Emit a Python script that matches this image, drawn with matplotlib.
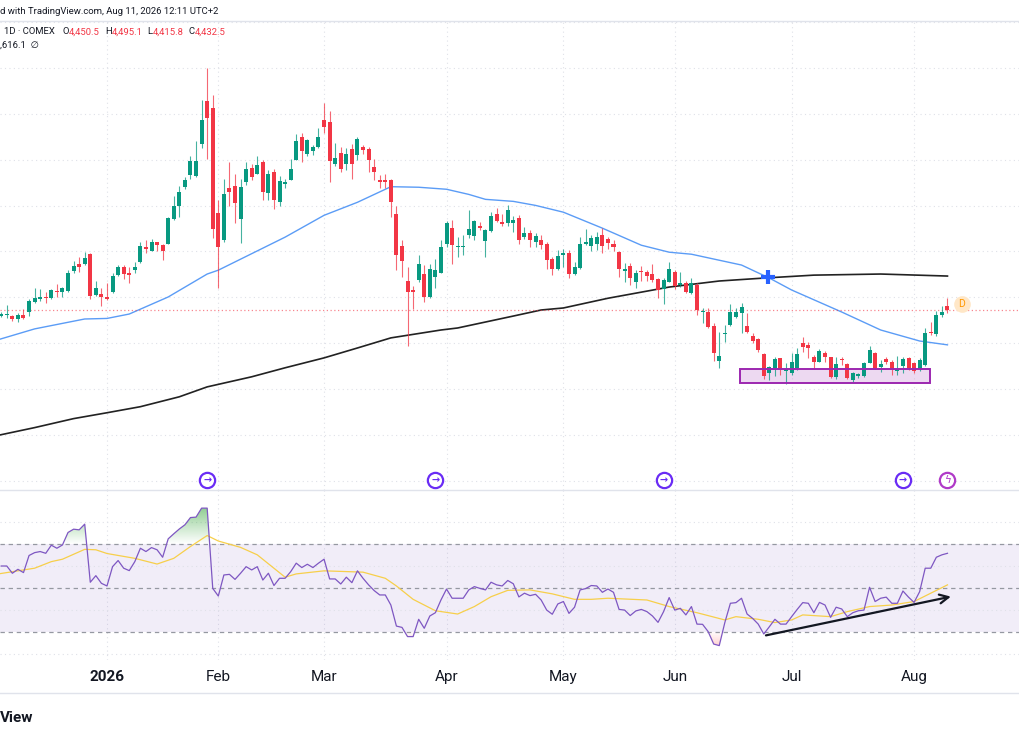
import numpy as np
import pandas as pd
import matplotlib
matplotlib.use("Agg")
import matplotlib.pyplot as plt
from matplotlib.colors import to_rgb
from matplotlib.lines import Line2D
from matplotlib.patches import Rectangle
from matplotlib.path import Path
from matplotlib.transforms import blended_transform_factory

plt.rcParams["font.family"] = ["Roboto", "DejaVu Sans"]

# COMEX gold, daily bars from 4 Dec 2025 to 11 Aug 2026
first_day = "2025-12-04"
holidays = ["2025-12-25", "2026-01-01", "2026-01-19", "2026-02-16",
            "2026-04-03", "2026-05-25", "2026-06-19", "2026-07-03"]

opens = [
    # Dec
    4400, 4402, 4398, 4380, 4402, 4422, 4473, 4493, 4502, 4494, 4536, 4531, 4534, 4641, 4681, 4681, 4734, 4513, 4518,
    # Jan
    4502, 4527, 4621, 4668, 4634, 4648, 4690, 4775, 4755, 4801, 4783, 4790, 4926, 4998, 5101, 5165, 5159, 5337, 5569, 5531,
    # Feb
    4957, 4812, 5094, 5109, 4929, 5129, 5207, 5172, 5236, 5069, 5183, 5020, 5120, 5141, 5250, 5373, 5279, 5297, 5322,
    # Mar
    5469, 5457, 5225, 5286, 5228, 5310, 5274, 5322, 5310, 5210, 5138, 5141, 5138, 4956, 4781, 4589, 4540, 4597, 4627, 4504, 4612, 4634,
    # Apr
    4788, 4880, 4772, 4775, 4839, 4835, 4889, 4806, 4862, 4956, 4909, 4906, 4904, 4935, 4830, 4853, 4802, 4813, 4790, 4708, 4654,
    # May
    4733, 4739, 4625, 4661, 4791, 4781, 4793, 4842, 4820, 4793, 4748, 4643, 4670, 4581, 4643, 4639, 4627, 4599, 4543, 4585,
    # Jun
    4636, 4567, 4578, 4523, 4567, 4418, 4420, 4346, 4155, 4300, 4349, 4395, 4413, 4344, 4291, 4273, 4193, 4086, 4114, 4168, 4099,
    # Jul
    4086, 4114, 4253, 4240, 4177, 4150, 4195, 4174, 4068, 4165, 4135, 4050, 4072, 4072, 4144, 4199, 4119, 4163, 4150, 4101, 4126, 4168,
    # Aug
    4141, 4108, 4131, 4313, 4300, 4404, 4450.5,
]
highs = [
    4418, 4458, 4402, 4413, 4435, 4489, 4552, 4547, 4531, 4545, 4572, 4558, 4648, 4697, 4721, 4748, 4744, 4587, 4549,
    4580, 4630, 4676, 4676, 4663, 4692, 4802, 4812, 4817, 4802, 4793, 4938, 5051, 5105, 5156, 5268, 5352, 5573, 5750, 5603,
    5029, 5147, 5237, 5170, 5147, 5237, 5225, 5268, 5247, 5196, 5201, 5159, 5147, 5255, 5388, 5395, 5364, 5328, 5424,
    5558, 5515, 5343, 5319, 5315, 5337, 5373, 5328, 5322, 5255, 5165, 5174, 5147, 4996, 4812, 4667, 4562, 4730, 4676, 4681, 4707, 4812,
    4917, 4920, 4830, 4839, 4978, 4920, 4911, 4870, 4965, 4989, 4956, 5005, 4944, 4947, 4884, 4866, 4851, 4839, 4802, 4721, 4757,
    4766, 4757, 4694, 4829, 4871, 4839, 4857, 4878, 4829, 4811, 4752, 4685, 4685, 4648, 4672, 4648, 4679, 4607, 4607, 4694,
    4648, 4636, 4589, 4603, 4576, 4440, 4440, 4358, 4309, 4349, 4462, 4444, 4467, 4413, 4304, 4280, 4198, 4126, 4177, 4172, 4141,
    4195, 4222, 4282, 4259, 4186, 4217, 4210, 4177, 4177, 4177, 4141, 4095, 4090, 4150, 4235, 4204, 4159, 4177, 4159, 4181, 4177, 4173,
    4150, 4168, 4331, 4367, 4425, 4453, 4495.1,
]
lows = [
    4392, 4386, 4373, 4368, 4380, 4398, 4467, 4482, 4467, 4493, 4503, 4503, 4531, 4630, 4639, 4676, 4489, 4507, 4453,
    4485, 4522, 4616, 4600, 4580, 4634, 4688, 4743, 4754, 4752, 4705, 4788, 4920, 4937, 5092, 5147, 5156, 5315, 5254, 4826,
    4552, 4803, 4996, 4906, 4797, 5114, 5141, 5170, 5029, 5029, 4984, 4996, 5098, 5138, 5246, 5237, 5268, 5273, 5315,
    5395, 5129, 5214, 5183, 5192, 5147, 5246, 5283, 5183, 5141, 5096, 5098, 4938, 4648, 4612, 4235, 4435, 4585, 4476, 4494, 4549, 4630,
    4775, 4681, 4721, 4730, 4821, 4815, 4866, 4721, 4857, 4911, 4888, 4888, 4855, 4788, 4820, 4775, 4775, 4766, 4657, 4621, 4648,
    4666, 4607, 4621, 4654, 4784, 4752, 4757, 4744, 4762, 4752, 4612, 4581, 4567, 4552, 4589, 4589, 4585, 4498, 4462, 4581,
    4545, 4558, 4522, 4516, 4404, 4358, 4331, 4155, 4114, 4259, 4346, 4389, 4304, 4304, 4250, 4204, 4055, 4047, 4072, 4077, 4028,
    4077, 4105, 4204, 4168, 4108, 4145, 4150, 4059, 4054, 4132, 4054, 4041, 4059, 4068, 4141, 4108, 4095, 4137, 4077, 4077, 4090, 4104,
    4090, 4096, 4126, 4295, 4290, 4395, 4415.8,
]
closes = [
    4408, 4409, 4380, 4402, 4388, 4482, 4494, 4500, 4498, 4540, 4529, 4552, 4634, 4670, 4663, 4717, 4509, 4551, 4503,
    4491, 4616, 4663, 4627, 4621, 4667, 4779, 4761, 4801, 4786, 4754, 4931, 4998, 5072, 5141, 5241, 5241, 5464, 5478, 4870,
    4775, 5062, 5076, 5014, 5101, 5201, 5156, 5219, 5074, 5170, 5029, 5132, 5127, 5201, 5352, 5297, 5355, 5319, 5373,
    5431, 5243, 5257, 5201, 5283, 5225, 5364, 5301, 5246, 5183, 5127, 5130, 5020, 4730, 4699, 4531, 4529, 4681, 4504, 4657, 4648, 4775,
    4907, 4784, 4779, 4781, 4870, 4915, 4878, 4866, 4942, 4917, 4898, 4974, 4924, 4811, 4848, 4811, 4833, 4784, 4703, 4654, 4724,
    4741, 4625, 4666, 4788, 4804, 4826, 4830, 4781, 4797, 4775, 4657, 4654, 4603, 4630, 4636, 4617, 4594, 4540, 4594, 4657,
    4563, 4576, 4531, 4576, 4429, 4425, 4340, 4197, 4181, 4308, 4418, 4418, 4445, 4310, 4264, 4213, 4072, 4122, 4163, 4104, 4110,
    4150, 4192, 4231, 4222, 4145, 4210, 4177, 4068, 4135, 4156, 4059, 4086, 4083, 4144, 4213, 4114, 4135, 4145, 4104, 4108, 4164, 4114,
    4101, 4158, 4307, 4304, 4404, 4422, 4432.5,
]

# RSI(14) per bar
rsi = [
    60.1, 60.1, 56.8, 58.6, 57.1, 64.9, 66.2, 66.7, 65.9, 69.6, 68.2, 69.7, 75.4, 76.9, 76.6, 79.2, 52.7, 55.7, 52.2,
    51.0, 59.8, 62.6, 59.1, 58.0, 62.1, 68.2, 66.7, 68.5, 67.5, 64.1, 72.5, 74.8, 77.0, 78.9, 82.2, 82.4, 86.5, 86.5, 49.9,
    46.4, 56.0, 56.3, 54.0, 56.8, 59.8, 58.3, 59.8, 53.7, 56.8, 51.2, 54.5, 54.5, 57.5, 61.4, 59.4, 60.9, 59.4, 61.4,
    63.2, 54.2, 54.2, 51.9, 55.0, 52.5, 57.9, 54.5, 51.5, 48.9, 46.9, 46.9, 42.3, 32.7, 32.1, 27.9, 27.9, 35.8, 31.7, 37.3, 38.8, 44.6,
    49.6, 45.4, 45.4, 45.4, 49.2, 50.7, 49.9, 49.2, 52.7, 51.5, 51.0, 53.5, 52.0, 46.0, 47.7, 46.6, 47.2, 44.6, 40.0, 38.1, 42.8,
    43.9, 38.5, 41.3, 49.2, 49.8, 51.2, 51.0, 48.1, 49.6, 48.1, 40.3, 40.0, 37.5, 39.6, 40.3, 39.3, 37.3, 34.4, 39.3, 45.7,
    40.0, 40.8, 37.8, 41.6, 33.6, 33.5, 30.2, 24.5, 23.8, 34.3, 43.1, 43.4, 45.4, 38.2, 36.2, 33.6, 29.1, 32.4, 35.8, 33.6, 33.6,
    37.0, 40.3, 43.4, 43.1, 38.8, 43.5, 42.3, 36.7, 41.3, 40.5, 37.0, 38.8, 39.7, 40.0, 50.4, 43.9, 45.4, 45.9, 43.1, 43.1, 48.7, 45.9,
    43.5, 48.4, 59.1, 59.1, 64.1, 65.2, 65.9,
]

# moving averages, read at a few bars (bar number counted from 4 Dec 2025)
sma50_bar = [-1, 6, 15, 19, 23, 30, 37, 39, 47, 51, 58, 64, 70, 75, 80, 84, 87, 92, 96, 101,
             108, 115, 120, 124, 133, 138, 142, 151, 158, 165, 170]
sma50_val = [4265, 4328, 4382, 4385, 4409, 4502, 4627, 4648, 4768, 4828, 4947, 5018, 5103, 5100, 5089, 5061, 5034, 5023, 5001, 4964,
             4877, 4784, 4746, 4735, 4676, 4605, 4540, 4420, 4322, 4262, 4241]
sma200_bar = [-1, 6, 13, 19, 25, 32, 37, 45, 51, 58, 64, 70, 79, 82, 92, 97, 101, 109, 120, 129, 137, 146, 158, 170]
sma200_val = [3745, 3790, 3839, 3871, 3904, 3958, 4012, 4067, 4116, 4170, 4224, 4279, 4322, 4333, 4398, 4431, 4442, 4495,
              4556, 4589, 4605, 4621, 4627, 4616]
rsi_ma_bar = [-1, 6, 9, 11, 15, 17, 19, 24, 28, 31, 34, 37, 39, 43, 46, 51, 53, 58, 65, 69, 71, 74, 78, 82, 85, 88, 91, 95,
              99, 103, 106, 109, 116, 120, 125, 130, 132, 136, 139, 142, 144, 149, 152, 156, 160, 164, 167, 170]
rsi_ma_val = [56.3, 59.1, 62.1, 63.2, 67.7, 67.5, 65.8, 63.6, 61.0, 63.6, 69.0, 74.0, 71.5, 68.6, 65.2, 55.0, 56.5, 57.9,
              57.3, 54.5, 51.0, 44.9, 39.7, 38.2, 41.6, 46.1, 49.0, 49.2, 47.4, 44.9, 44.9, 45.4, 44.6, 41.6, 38.8, 35.5,
              37.0, 35.8, 34.3, 35.5, 37.8, 37.0, 39.3, 41.6, 42.3, 43.9, 47.7, 51.5]

# drawings on the chart
zone_bars = (132.7, 166.9)
zone_prices = (4034, 4110)
cross_point = (137.8, 4610)
trend_start = (136.9, 28.2)
trend_end = (171.1, 46.4)
event_bars = [37, 78, 119, 162]
bolt_bar = 170
last_close = closes[-1]

UP, DOWN = "#089981", "#f23645"
TXT = "#131722"
GRID = "#dfe1e8"

W, H = 1020, 741


def fy(px):
    return 1 - px / H


def gradient_fill(axis, x, y, level, far, color, alpha_max):
    x = np.asarray(x, float)
    y = np.asarray(y, float)
    if far > level:
        coll = axis.fill_between(x, level, y, where=y > level, interpolate=True, color="none", lw=0)
        alphas = np.linspace(alpha_max, 0, 256)
    else:
        coll = axis.fill_between(x, y, level, where=y < level, interpolate=True, color="none", lw=0)
        alphas = np.linspace(0, alpha_max, 256)
    paths = coll.get_paths()
    if not paths:
        return
    rgba = np.zeros((256, 1, 4))
    rgba[..., :3] = to_rgb(color)
    rgba[:, 0, 3] = alphas
    img = axis.imshow(rgba, extent=(x.min(), x.max(), min(level, far), max(level, far)),
                      aspect="auto", origin="upper", zorder=2, interpolation="bilinear")
    img.set_clip_path(Path.make_compound_path(*paths), axis.transData)


days = pd.bdate_range(first_day, "2026-08-31", freq="C", holidays=holidays)
n = len(closes)
bars = np.arange(n)

month_pos, month_lab = [], []
for i in range(1, len(days)):
    if days[i].month != days[i - 1].month:
        month_pos.append(i)
        month_lab.append(str(days[i].year) if days[i].month == 1 else days[i].strftime("%b"))

fig = plt.figure(figsize=(W / 100, H / 100), dpi=100)
ax = fig.add_axes([0, fy(490), 1, 469 / H])
axr = fig.add_axes([0, fy(660), 1, 170 / H])
xlim = (-0.22, 183.03)

# ---------------- price pane ----------------
for p in range(3500, 6001, 250):
    ax.axhline(p, color=GRID, lw=0.8, ls=(0, (1, 3)), zorder=0)
for a in (ax, axr):
    for m in month_pos:
        a.axvline(m, color=GRID, lw=0.8, ls=(0, (1, 3)), zorder=0)

ax.add_patch(Rectangle((zone_bars[0], zone_prices[0]), zone_bars[1] - zone_bars[0],
                       zone_prices[1] - zone_prices[0], facecolor="#ce93d8", alpha=0.35, lw=0, zorder=1))
ax.add_patch(Rectangle((zone_bars[0], zone_prices[0]), zone_bars[1] - zone_bars[0],
                       zone_prices[1] - zone_prices[0], facecolor="none", edgecolor="#9c27b0", lw=1.4, zorder=4))

ax.plot(sma200_bar, sma200_val, color="#222222", lw=1.2, zorder=2)
ax.plot(sma50_bar, sma50_val, color="#5b9cf6", lw=1.0, zorder=2)

o, h, l, c = map(np.array, (opens, highs, lows, closes))
col = np.where(c >= o, UP, DOWN)
ax.vlines(bars, l, h, colors=col, lw=0.8, alpha=0.75, zorder=3)
ax.bar(bars, np.maximum(np.abs(c - o), 5), bottom=np.minimum(o, c), width=0.72, color=col, lw=0, zorder=3.1)

ax.axhline(last_close, color=DOWN, lw=0.9, ls=(0, (1, 2)), alpha=0.6, zorder=2)
ax.plot(*cross_point, marker="+", ms=10, mew=3, color="#2962ff", zorder=5)

ax.plot(n + 1.6, 4464, marker="o", ms=12, mfc="#ffe7c7", mec="none", zorder=5, clip_on=False)
ax.text(n + 1.6, 4464, "D", color="#ff9800", fontsize=7.5, ha="center", va="center", zorder=6)

ev = blended_transform_factory(ax.transData, ax.transAxes)
for b in event_bars:
    ax.plot(b, 0.0213, marker="o", ms=11, mfc="white", mec="#6a2cf5", mew=1.6, transform=ev, clip_on=False, zorder=5)
    ax.text(b, 0.0213, "→", color="#6a2cf5", fontsize=7, fontweight="bold", ha="center", va="center",
            transform=ev, zorder=6)
ax.plot(bolt_bar, 0.0213, marker="o", ms=11, mfc="white", mec="#b03ac8", mew=1.6, transform=ev, clip_on=False, zorder=5)
ax.text(bolt_bar, 0.0213, "ϟ", color="#b03ac8", fontsize=7.5, ha="center", va="center", transform=ev,
        family=["DejaVu Sans"], zorder=6)

ax.set_xlim(*xlim)
ax.set_ylim(3450, 6006)
ax.axis("off")

# ---------------- RSI pane ----------------
axr.axhspan(30, 70, color="#7e57c2", alpha=0.1, lw=0, zorder=0)
for v in (20, 40, 60, 80):
    axr.axhline(v, color=GRID, lw=0.8, ls=(0, (1, 3)), zorder=0)
for v in (30, 50, 70):
    axr.axhline(v, color="#9598a1", lw=0.9, ls=(0, (3.5, 3)), zorder=1)

gradient_fill(axr, bars, rsi, 70, 90, "#4caf50", 0.75)
gradient_fill(axr, bars, rsi, 30, 18, "#ff5252", 0.5)
axr.plot(rsi_ma_bar, rsi_ma_val, color="#f7cf4a", lw=0.9, zorder=3)
axr.plot(bars, rsi, color="#7e57c2", lw=0.9, zorder=4)
axr.annotate("", xy=trend_end, xytext=trend_start,
             arrowprops=dict(arrowstyle="->", color=TXT, lw=1.6, mutation_scale=16), zorder=5)

axr.set_xlim(*xlim)
axr.set_ylim(17.23, 94.77)
axr.axis("off")

# time axis labels
tr = blended_transform_factory(axr.transData, axr.transAxes)
for m, lab in zip(month_pos, month_lab):
    axr.text(m, -0.1, lab, transform=tr, ha="center", va="center", fontsize=11, color=TXT,
             fontweight="bold" if lab.isdigit() else "normal", clip_on=False)

# frame lines
for yy in (20.5, 490, 693):
    fig.add_artist(Line2D([0, 1], [fy(yy)] * 2, transform=fig.transFigure, color="#e0e3eb", lw=1))

# header / legend text
fig.text(0, fy(11), "d with TradingView.com, Aug 11, 2026 12:11 UTC+2", fontsize=6.8, color=TXT, va="center")
renderer = fig.canvas.get_renderer()
xpos = 4
pieces = [("1D · COMEX", TXT, 8), ("O", TXT, 0), ("4,450.5", DOWN, 5), ("H", TXT, 0), ("4,495.1", DOWN, 5),
          ("L", TXT, 0), ("4,415.8", DOWN, 5), ("C", TXT, 0), ("4,432.5", DOWN, 0)]
for s, colr, gap in pieces:
    t = fig.text(xpos / W, fy(32), s, fontsize=6.8, color=colr, va="center")
    xpos += t.get_window_extent(renderer).width + gap
fig.text(0, fy(45), ",616.1  ∅", fontsize=6.8, color=TXT, va="center")

fig.text(0, fy(718), "View", fontsize=11, fontweight="bold", color=TXT, ha="left", va="center")

fig.savefig("out.png", dpi=100, facecolor="white")
